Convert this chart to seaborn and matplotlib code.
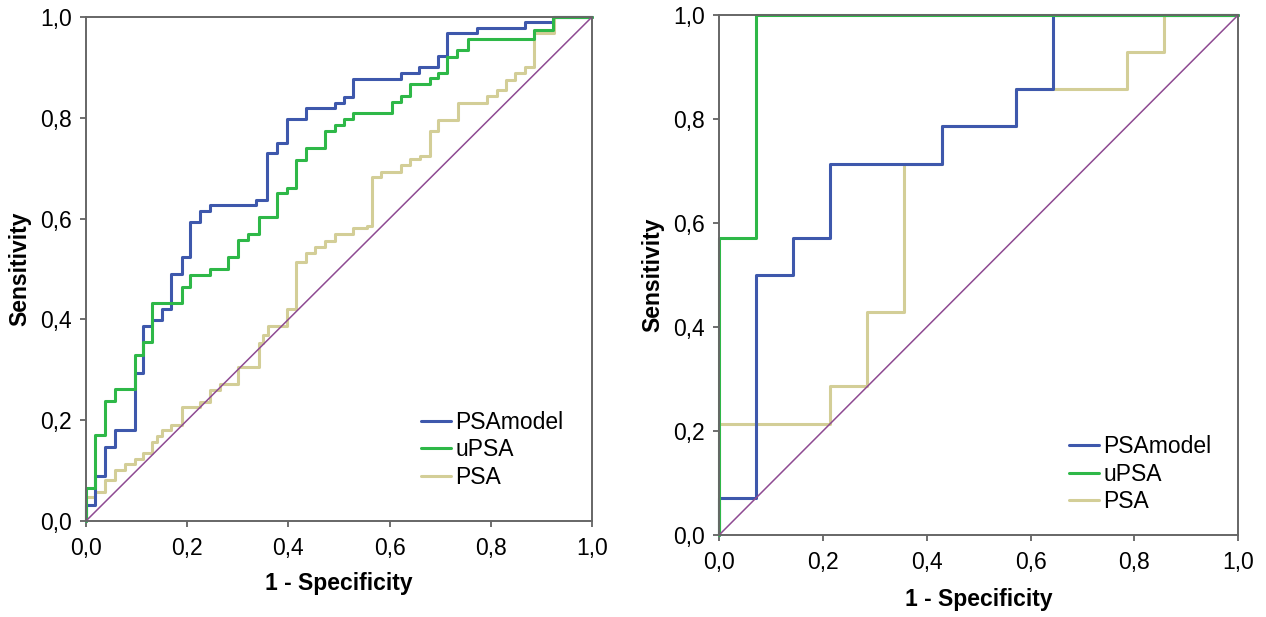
"""
ROC curves: PSAmodel, uPSA and PSA (two cohorts)
"""
import matplotlib
matplotlib.use("Agg")
import matplotlib.pyplot as plt
from matplotlib.ticker import FuncFormatter
import seaborn as sns
import pandas as pd

# left cohort: (1 - specificity, sensitivity) at the top of each step
left_model_fpr = [0, 0, 0.018, 0.038, 0.057, 0.096, 0.113, 0.130, 0.150, 0.169, 0.189, 0.206,
                  0.225, 0.245, 0.337, 0.357, 0.377, 0.397, 0.434, 0.492, 0.509, 0.527, 0.622,
                  0.659, 0.696, 0.714, 0.772, 0.868, 0.922, 1.0]
left_model_tpr = [0, 0.032, 0.089, 0.147, 0.181, 0.293, 0.387, 0.399, 0.420, 0.490, 0.524, 0.594,
                  0.615, 0.627, 0.637, 0.730, 0.750, 0.798, 0.820, 0.830, 0.841, 0.876, 0.888,
                  0.900, 0.923, 0.969, 0.979, 0.991, 1.0, 1.0]

left_upsa_fpr = [0, 0, 0.018, 0.038, 0.057, 0.096, 0.113, 0.130, 0.189, 0.206, 0.245, 0.281,
                 0.301, 0.321, 0.341, 0.378, 0.397, 0.415, 0.435, 0.472, 0.492, 0.509, 0.527,
                 0.604, 0.622, 0.640, 0.679, 0.696, 0.714, 0.734, 0.754, 0.885, 0.922, 1.0]
left_upsa_tpr = [0, 0.066, 0.171, 0.239, 0.261, 0.329, 0.356, 0.432, 0.465, 0.488, 0.499, 0.523,
                 0.558, 0.569, 0.603, 0.650, 0.660, 0.716, 0.741, 0.774, 0.786, 0.797, 0.809,
                 0.832, 0.843, 0.867, 0.878, 0.888, 0.921, 0.935, 0.956, 0.974, 1.0, 1.0]

left_psa_fpr = [0, 0, 0.018, 0.038, 0.057, 0.077, 0.096, 0.113, 0.130, 0.140, 0.150, 0.169,
                0.189, 0.225, 0.245, 0.264, 0.301, 0.341, 0.350, 0.360, 0.397, 0.415, 0.435,
                0.453, 0.472, 0.492, 0.528, 0.556, 0.565, 0.584, 0.622, 0.640, 0.660, 0.679,
                0.696, 0.736, 0.792, 0.812, 0.830, 0.848, 0.868, 0.885, 0.925, 1.0]
left_psa_tpr = [0, 0.047, 0.058, 0.081, 0.101, 0.113, 0.123, 0.134, 0.157, 0.169, 0.181, 0.191,
                0.227, 0.237, 0.260, 0.272, 0.306, 0.353, 0.370, 0.386, 0.420, 0.514, 0.531,
                0.544, 0.556, 0.569, 0.581, 0.586, 0.683, 0.693, 0.706, 0.718, 0.724, 0.774,
                0.796, 0.830, 0.843, 0.855, 0.875, 0.888, 0.900, 0.968, 1.0, 1.0]

# right cohort
right_model_fpr = [0, 0, 0.0714, 0.1429, 0.2143, 0.4286, 0.5714, 0.6429, 1.0]
right_model_tpr = [0, 0.0714, 0.5, 0.5714, 0.7143, 0.7857, 0.8571, 1.0, 1.0]

right_upsa_fpr = [0, 0, 0.0714, 1.0]
right_upsa_tpr = [0, 0.5714, 1.0, 1.0]

right_psa_fpr = [0, 0, 0.2143, 0.2857, 0.3571, 0.4286, 0.5714, 0.7857, 0.8571, 1.0]
right_psa_tpr = [0, 0.2143, 0.2857, 0.4286, 0.7143, 0.7857, 0.8571, 0.9286, 1.0, 1.0]

ticks = [0.0, 0.2, 0.4, 0.6, 0.8, 1.0]
series_order = ["PSAmodel", "uPSA", "PSA"]
colors = {"PSAmodel": "#3E58AC", "uPSA": "#2EB848", "PSA": "#D3CE97"}
ref_color = "#8E4A92"

sns.set_style("white")
plt.rcParams["font.family"] = ["Liberation Sans", "DejaVu Sans"]
plt.rcParams["text.color"] = "black"
plt.rcParams["axes.labelcolor"] = "black"
plt.rcParams["xtick.color"] = "black"
plt.rcParams["ytick.color"] = "black"

FS = 16.5


def comma(v, _):
    return f"{v:.1f}".replace(".", ",")


def draw_panel(ax, curves, legend_anchor, xlabel_pad, ylabel_pad):
    """Draw one ROC panel with the reference diagonal."""
    handles = {}
    # PSA first, then PSAmodel, uPSA on top
    for name in ["PSA", "PSAmodel", "uPSA"]:
        fpr, tpr = curves[name]
        df = pd.DataFrame({"fpr": fpr, "tpr": tpr})
        sns.lineplot(data=df, x="fpr", y="tpr", ax=ax, sort=False, estimator=None,
                     color=colors[name], linewidth=2.2, drawstyle="steps-post",
                     label=name, clip_on=False)
        handles[name] = ax.get_lines()[-1]
    diag = pd.DataFrame({"x": ticks, "y": ticks})
    sns.lineplot(data=diag, x="x", y="y", ax=ax, color=ref_color, linewidth=1.1,
                 sort=False, estimator=None)

    ax.set_xlim(0, 1)
    ax.set_ylim(0, 1)
    ax.set_xticks(ticks)
    ax.set_yticks(ticks)
    ax.xaxis.set_major_formatter(FuncFormatter(comma))
    ax.yaxis.set_major_formatter(FuncFormatter(comma))
    ax.tick_params(direction="out", length=4.5, width=1.2, color="#555555",
                   labelsize=FS, labelcolor="black", bottom=True, left=True)
    ax.tick_params(axis="x", pad=7)
    ax.tick_params(axis="y", pad=5.5)
    for sp in ax.spines.values():
        sp.set_color("#666666")
        sp.set_linewidth(1.4)
    ax.set_xlabel("1 - Specificity", fontsize=FS, fontweight="bold", labelpad=xlabel_pad)
    ax.set_ylabel("Sensitivity", fontsize=FS, fontweight="bold", labelpad=ylabel_pad)

    ax.legend([handles[n] for n in series_order], series_order, loc="center left",
              bbox_to_anchor=legend_anchor, frameon=False, fontsize=FS,
              handlelength=1.3, handletextpad=0.2, labelspacing=0.2,
              borderpad=0, borderaxespad=0)


fig = plt.figure(figsize=(12.66, 6.17), dpi=100)
ax_left = fig.add_axes([0.0679, 0.1556, 0.3997, 0.8169])
ax_right = fig.add_axes([0.568, 0.1329, 0.41, 0.8428])

draw_panel(ax_left,
           {"PSAmodel": (left_model_fpr, left_model_tpr),
            "uPSA": (left_upsa_fpr, left_upsa_tpr),
            "PSA": (left_psa_fpr, left_psa_tpr)},
           legend_anchor=(0.662, 0.141), xlabel_pad=9, ylabel_pad=6.5)
draw_panel(ax_right,
           {"PSAmodel": (right_model_fpr, right_model_tpr),
            "uPSA": (right_upsa_fpr, right_upsa_tpr),
            "PSA": (right_psa_fpr, right_psa_tpr)},
           legend_anchor=(0.674, 0.117), xlabel_pad=10, ylabel_pad=6.5)

fig.savefig("out.png", dpi=100)
plt.close(fig)
